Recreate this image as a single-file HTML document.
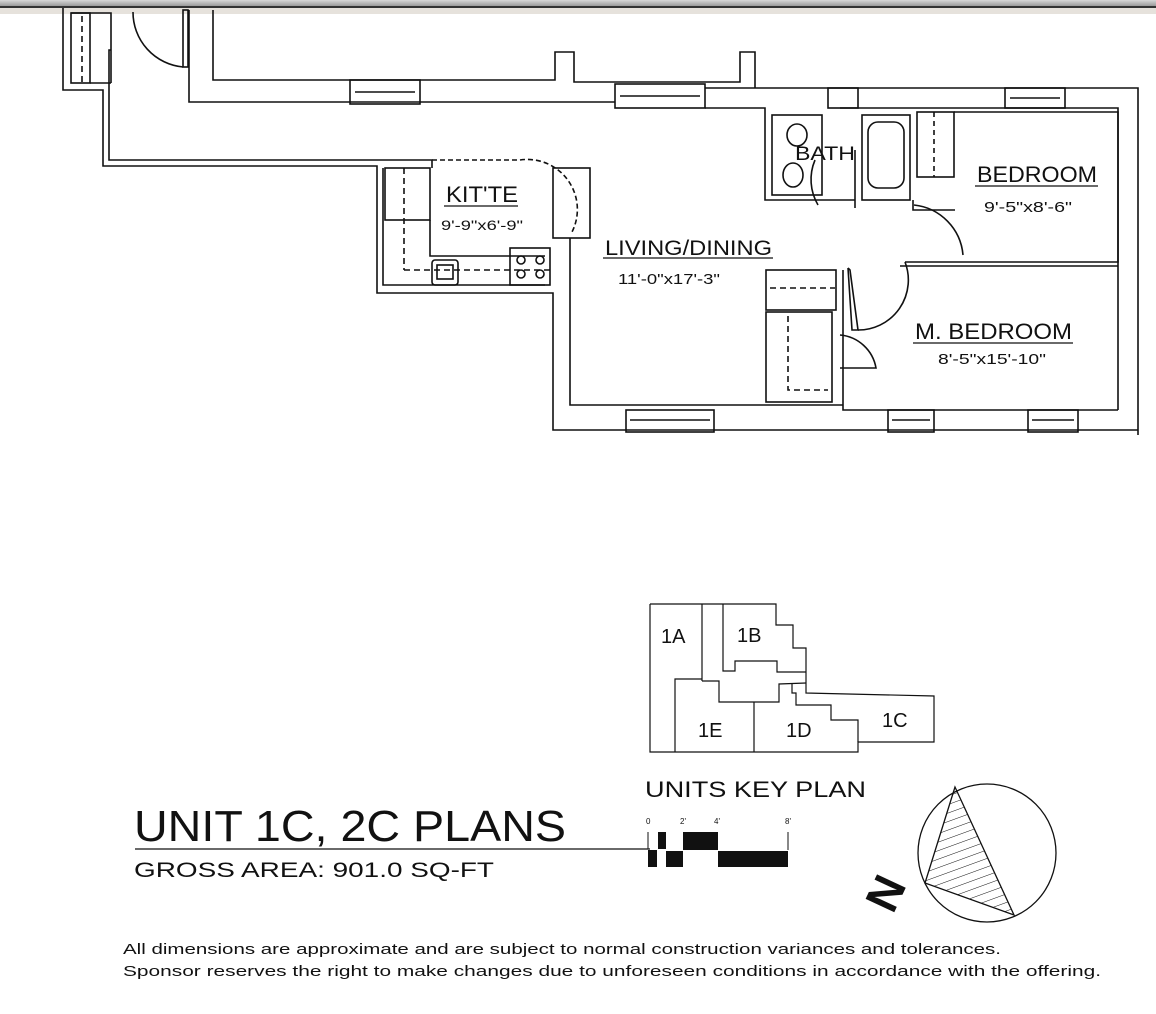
<!DOCTYPE html>
<html><head><meta charset="utf-8"><style>
html,body{margin:0;padding:0;background:#fff;}
svg{display:block;}
text{font-family:"Liberation Sans",sans-serif;fill:#111;}
</style></head><body>
<svg width="1156" height="1014" viewBox="0 0 1156 1014" xmlns="http://www.w3.org/2000/svg">
<defs>
<linearGradient id="tb" x1="0" y1="0" x2="0" y2="1"><stop offset="0" stop-color="#d8d8d8"/><stop offset="1" stop-color="#9a9a9a"/></linearGradient>
<pattern id="hatch" width="8" height="8" patternUnits="userSpaceOnUse" patternTransform="rotate(-20)"><line x1="0" y1="0" x2="8" y2="0" stroke="#111" stroke-width="1"/></pattern>
</defs>
<rect x="0" y="0" width="1156" height="6" fill="url(#tb)"/>
<rect x="0" y="6" width="1156" height="2" fill="#333"/>
<rect x="0" y="8" width="1156" height="6" fill="#e6e2dc"/>

<g fill="none" stroke="#111" stroke-width="1.6">
<!-- entry area -->
<polyline points="63,8 63,90 103,90 103,166 377,166 377,293 553,293 553,430 1138,430"/>
<polyline points="71,13 111,13 111,83"/>
<polyline points="111,50 109,50 109,160 432,160 432,168"/>
<rect x="71" y="13" width="19" height="70"/>
<line x1="90" y1="83" x2="111" y2="83"/>
<line x1="82" y1="16" x2="82" y2="83" stroke-dasharray="6,4"/>
<path d="M133,12 A55,55 0 0 0 183,67"/>
<rect x="183" y="10" width="5" height="57"/>
<polyline points="189,10 189,102 615,102"/>
<polyline points="213,10 213,80 555,80 555,52 574,52 574,82 740,82 740,52 755,52 755,88"/>
<!-- top windows -->
<rect x="350" y="80" width="70" height="24"/>
<line x1="355" y1="92" x2="415" y2="92"/>
<rect x="615" y="84" width="90" height="24"/>
<line x1="620" y1="96" x2="700" y2="96"/>
<!-- upper right outer -->
<polyline points="705,88 1138,88 1138,435"/>
<polyline points="705,108 765,108 765,200 855,200"/>
<polyline points="840,108 1118,108 1118,410"/>
<rect x="828" y="88" width="30" height="20"/>
<rect x="1005" y="88" width="60" height="20"/>
<line x1="1010" y1="98" x2="1060" y2="98"/>
<!-- bath -->
<rect x="772" y="115" width="50" height="80"/>
<ellipse cx="797" cy="135" rx="10" ry="11"/>
<ellipse cx="793" cy="175" rx="10" ry="12"/>
<rect x="862" y="115" width="48" height="85"/>
<rect x="868" y="122" width="36" height="66" rx="10"/>
<rect x="917" y="112" width="37" height="65"/>
<line x1="934" y1="112" x2="934" y2="177" stroke-dasharray="5,4"/>
<path d="M815,160 A50,50 0 0 0 818,205"/>
<line x1="855" y1="150" x2="855" y2="208"/>
<polyline points="913,200 913,210 955,210"/>
<!-- bedroom -->
<polyline points="954,112 1118,112 1118,262 905,262"/>
<path d="M914,205 A55,55 0 0 1 963,255"/>
<line x1="900" y1="266" x2="1118" y2="266"/>
<!-- kitchen -->
<polyline points="383,168 383,285 545,285"/>
<rect x="385" y="168" width="45" height="52"/>
<line x1="404" y1="168" x2="404" y2="270" stroke-dasharray="6,4"/>
<polyline points="404,270 550,270" stroke-dasharray="6,4"/>
<polyline points="430,220 430,256 545,256"/>
<rect x="432" y="260" width="26" height="25" rx="3"/>
<rect x="437" y="265" width="16" height="14"/>
<rect x="510" y="248" width="40" height="37"/>
<circle cx="521" cy="260" r="4"/><circle cx="540" cy="260" r="4"/>
<circle cx="521" cy="274" r="4"/><circle cx="540" cy="274" r="4"/>
<path d="M432,160 L520,160 A50,50 0 0 1 572,232" stroke-dasharray="5,3"/>
<rect x="553" y="168" width="37" height="70"/>
<!-- living left wall -->
<polyline points="570,238 570,405 843,405"/>
<rect x="626" y="410" width="88" height="22"/>
<line x1="630" y1="420" x2="710" y2="420"/>
<!-- closets -->
<rect x="766" y="270" width="70" height="40"/>
<line x1="770" y1="288" x2="835" y2="288" stroke-dasharray="6,4"/>
<rect x="766" y="312" width="66" height="90"/>
<polyline points="788,316 788,390 828,390" stroke-dasharray="6,4"/>
<polyline points="843,270 843,410 1118,410"/>
<polyline points="848,268 852,330 858,330 850,270 848,268"/>
<path d="M858,330 A50,50 0 0 0 905,262"/>
<path d="M840,335 A40,40 0 0 1 876,368 L840,368"/>
<rect x="888" y="410" width="46" height="22"/>
<rect x="1028" y="410" width="50" height="22"/>
<line x1="892" y1="420" x2="930" y2="420"/><line x1="1032" y1="420" x2="1074" y2="420"/>
</g>

<!-- room labels -->
<text x="446" y="202" font-size="22" textLength="72" lengthAdjust="spacingAndGlyphs">KIT'TE</text>
<line x1="444" y1="206" x2="518" y2="206" stroke="#111" stroke-width="1.2"/>
<text x="441" y="230" font-size="14" textLength="82" lengthAdjust="spacingAndGlyphs">9'-9"x6'-9"</text>
<text x="795" y="160" font-size="19" textLength="60" lengthAdjust="spacingAndGlyphs">BATH</text>
<text x="977" y="182" font-size="22" textLength="120" lengthAdjust="spacingAndGlyphs">BEDROOM</text>
<line x1="975" y1="186" x2="1098" y2="186" stroke="#111" stroke-width="1.2"/>
<text x="984" y="212" font-size="15" textLength="88" lengthAdjust="spacingAndGlyphs">9'-5"x8'-6"</text>
<text x="605" y="255" font-size="21" textLength="167" lengthAdjust="spacingAndGlyphs">LIVING/DINING</text>
<line x1="603" y1="258" x2="773" y2="258" stroke="#111" stroke-width="1.2"/>
<text x="618" y="284" font-size="15" textLength="102" lengthAdjust="spacingAndGlyphs">11'-0"x17'-3"</text>
<text x="915" y="339" font-size="22" textLength="157" lengthAdjust="spacingAndGlyphs">M. BEDROOM</text>
<line x1="913" y1="343" x2="1073" y2="343" stroke="#111" stroke-width="1.2"/>
<text x="938" y="364" font-size="15" textLength="108" lengthAdjust="spacingAndGlyphs">8'-5"x15'-10"</text>

<!-- key plan -->
<g fill="none" stroke="#111" stroke-width="1.2">
<polyline points="650,604 776,604 776,625 793,625 793,648 806,648 806,693 934,696 934,742 858,742 858,752 650,752 650,604"/>
<line x1="702" y1="604" x2="702" y2="681"/>
<polyline points="723,604 723,671 735,671 735,661 777,661 777,672 806,672"/>
<polyline points="675,752 675,679 702,679"/>
<polyline points="702,681 719,681 719,702 779,702 779,684 806,683"/>
<line x1="754" y1="702" x2="754" y2="752"/>
<polyline points="792,684 792,693 796,693 796,705 831,705 831,720 858,720 858,742"/>
</g>
<g font-size="20">
<text x="661" y="643">1A</text><text x="737" y="642">1B</text>
<text x="698" y="737">1E</text><text x="786" y="737">1D</text><text x="882" y="727">1C</text>
</g>
<text x="645" y="797" font-size="22" textLength="221" lengthAdjust="spacingAndGlyphs">UNITS KEY PLAN</text>

<!-- scale bar -->
<line x1="135" y1="849" x2="650" y2="849" stroke="#111" stroke-width="1.3"/>
<g fill="#111">
<rect x="648" y="850" width="9" height="17"/>
<rect x="658" y="832" width="8" height="17"/>
<rect x="666" y="851" width="17" height="16"/>
<rect x="683" y="832" width="35" height="18"/>
<rect x="718" y="851" width="70" height="16"/>
</g>
<line x1="648" y1="832" x2="648" y2="849" stroke="#111"/>
<line x1="788" y1="832" x2="788" y2="850" stroke="#111"/>
<g font-size="8"><text x="646" y="824">0</text><text x="680" y="824">2'</text><text x="714" y="824">4'</text><text x="785" y="824">8'</text></g>

<!-- compass -->
<circle cx="987" cy="853" r="69" fill="none" stroke="#111" stroke-width="1.3"/>
<polygon points="955,787 925,883 1014,915" fill="url(#hatch)" stroke="#111" stroke-width="1.3"/>
<text x="0" y="0" font-size="46" font-weight="bold" transform="translate(893,915) rotate(-65)">N</text>

<!-- title -->
<text x="134" y="841" font-size="44" textLength="432" lengthAdjust="spacingAndGlyphs">UNIT 1C, 2C PLANS</text>
<text x="134" y="877" font-size="21" textLength="360" lengthAdjust="spacingAndGlyphs" fill="#333">GROSS AREA: 901.0 SQ-FT</text>
<text x="123" y="954" font-size="15" textLength="878" lengthAdjust="spacingAndGlyphs">All dimensions are approximate and are subject to normal construction variances and tolerances.</text>
<text x="123" y="976" font-size="15" textLength="978" lengthAdjust="spacingAndGlyphs">Sponsor reserves the right to make changes due to unforeseen conditions in accordance with the offering.</text>
</svg>
</body></html>
